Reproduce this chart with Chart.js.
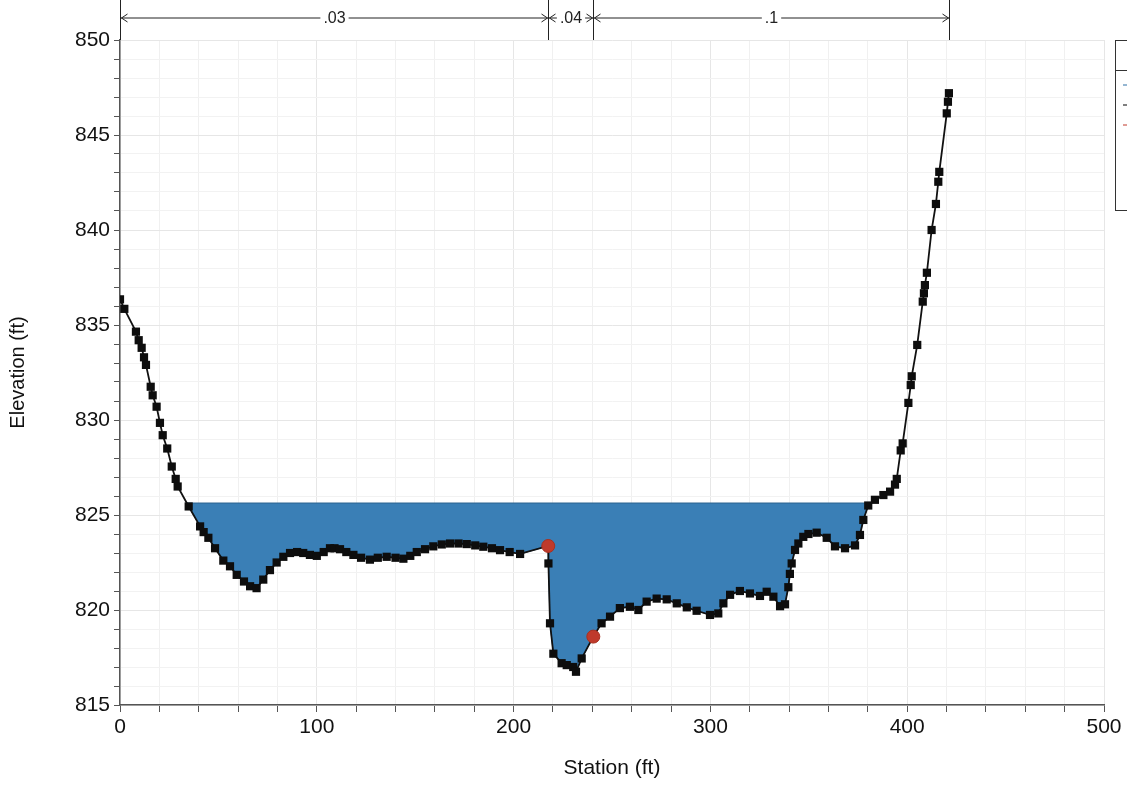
<!DOCTYPE html>
<html>
<head>
<meta charset="utf-8">
<script src="https://cdn.jsdelivr.net/npm/chart.js@4.4.1/dist/chart.umd.min.js"></script>
<style>
  html, body { margin: 0; padding: 0; background: #fff; }
  #wrap { width: 1127px; height: 786px; }
</style>
</head>
<body>
<div id="wrap"><canvas id="xsChart"></canvas></div>
<script>
// ground profile (station ft, elevation ft)
const stations = [0, 2.2, 8.1, 9.5, 11.0, 12.2, 13.2, 15.6, 16.6, 18.6, 20.3, 21.7, 24.0, 26.3, 28.3, 29.3,
  34.9, 40.7, 42.5, 44.9, 48.3, 52.5, 55.9, 59.3, 63, 66.1, 69.4, 72.8, 76.2, 79.6, 83, 86.4, 90, 93.1,
  96.5, 100, 103.5, 106.7, 109, 111.8, 115, 118.6, 122.5, 127, 131, 135.5, 140, 144, 147.5, 150.8, 155,
  159.2, 163.5, 167.7, 172, 176.2, 180.5, 184.6, 189, 193.1, 198, 203.3, 217.6, 217.7, 218.5, 220.2,
  224.4, 227, 230.3, 231.7, 234.6, 240.5, 244.7, 249, 254, 259.1, 263.4, 267.6, 272.7, 277.8, 282.9,
  288, 293, 299.8, 304, 306.6, 310, 315, 320.1, 325.2, 328.6, 332, 335.4, 337.9, 339.6, 340.4, 341.3,
  343, 344.7, 347.2, 349.8, 354, 359.1, 363.3, 368.4, 373.5, 376, 377.7, 380.2, 383.6, 387.9, 391.3,
  393.8, 394.7, 396.7, 397.7, 400.6, 401.8, 402.3, 405.1, 407.9, 408.5, 409, 410, 412.4, 414.6, 415.8,
  416.3, 420.1, 420.7, 421.2];
const elevations = [836.35, 835.85, 834.65, 834.2, 833.8, 833.3, 832.9, 831.75, 831.3, 830.7, 829.85, 829.2,
  828.5, 827.55, 826.9, 826.5, 825.45, 824.4, 824.1, 823.8, 823.25, 822.6, 822.3, 821.85, 821.5, 821.25,
  821.15, 821.6, 822.1, 822.5, 822.8, 823.0, 823.05, 823.0, 822.9, 822.85, 823.05, 823.25, 823.25, 823.2,
  823.05, 822.9, 822.75, 822.65, 822.75, 822.8, 822.75, 822.7, 822.85, 823.05, 823.2, 823.35, 823.45,
  823.5, 823.5, 823.47, 823.4, 823.33, 823.25, 823.15, 823.05, 822.95, 823.37, 822.45, 819.3, 817.7,
  817.2, 817.1, 817.0, 816.75, 817.45, 818.6, 819.3, 819.65, 820.1, 820.17, 820.0, 820.44, 820.6, 820.56,
  820.35, 820.14, 819.96, 819.74, 819.82, 820.35, 820.8, 821.0, 820.87, 820.74, 820.96, 820.7, 820.2,
  820.3, 821.2, 821.9, 822.45, 823.16, 823.5, 823.85, 824.0, 824.07, 823.8, 823.35, 823.25, 823.4,
  823.95, 824.74, 825.5, 825.8, 826.05, 826.23, 826.6, 826.9, 828.4, 828.77, 830.9, 831.84, 832.3,
  833.95, 836.23, 836.67, 837.1, 837.75, 840.0, 841.37, 842.54, 843.06, 846.14, 846.75, 847.2];
const bankStations = [217.6, 240.5];
const bankElevations = [823.37, 818.6];
const wsElevation = 825.63;
// manning's n breaks along the top
const nBreaks = [0, 217.6, 240.5, 421.2];
const nLabels = ['.03', '.04', '.1'];
const legendItems = ['WS PF 1', 'Ground', 'Bank Sta'];

const ground = stations.map((s, i) => ({x: s, y: elevations[i]}));
const banks = bankStations.map((s, i) => ({x: s, y: bankElevations[i]}));

// water polygon: WS line then ground back underneath it
function waterPolygon() {
  let iL = elevations.findIndex(e => e < wsElevation);
  let iR = elevations.length - 1;
  while (elevations[iR] >= wsElevation) iR--;
  const cross = (a, b) => stations[a] + (wsElevation - elevations[a]) * (stations[b] - stations[a]) / (elevations[b] - elevations[a]);
  const xl = cross(iL - 1, iL), xr = cross(iR, iR + 1);
  const pts = [{x: xl, y: wsElevation}, {x: xr, y: wsElevation}];
  for (let j = iR; j >= iL; j--) pts.push({x: stations[j], y: elevations[j]});
  pts.push({x: xl, y: wsElevation});
  return pts;
}

const FONT = "'Liberation Sans', Arial, sans-serif";

const topNotes = {
  id: 'topNotes',
  afterDraw(chart) {
    const ctx = chart.ctx, xs = chart.scales.x;
    const y = 18;
    ctx.save();
    ctx.strokeStyle = '#222';
    ctx.fillStyle = '#222';
    ctx.lineWidth = 1;
    ctx.font = '16px ' + FONT;
    ctx.textAlign = 'center';
    ctx.textBaseline = 'middle';
    const px = nBreaks.map(v => Math.round(xs.getPixelForValue(v)) + 0.5);
    px.forEach(p => { ctx.beginPath(); ctx.moveTo(p, 0); ctx.lineTo(p, 40); ctx.stroke(); });
    for (let i = 0; i < nLabels.length; i++) {
      const a = px[i], b = px[i + 1], mid = (a + b) / 2;
      const tw = ctx.measureText(nLabels[i]).width + 6;
      ctx.beginPath();
      if (b - a > tw + 4) {
        ctx.moveTo(a, y); ctx.lineTo(mid - tw / 2, y);
        ctx.moveTo(mid + tw / 2, y); ctx.lineTo(b, y);
      }
      // arrow heads
      ctx.moveTo(a + 7, y - 4); ctx.lineTo(a + 1, y); ctx.lineTo(a + 7, y + 4);
      ctx.moveTo(b - 7, y - 4); ctx.lineTo(b - 1, y); ctx.lineTo(b - 7, y + 4);
      ctx.stroke();
      ctx.fillText(nLabels[i], mid, y + 1);
    }
    // legend box, mostly off the right edge
    const lx = 1115, ly = 40;
    ctx.strokeStyle = '#333';
    ctx.strokeRect(lx + 0.5, ly + 0.5, 200, 170);
    ctx.beginPath(); ctx.moveTo(lx, ly + 30.5); ctx.lineTo(lx + 200, ly + 30.5); ctx.stroke();
    ctx.textAlign = 'left';
    ctx.font = '13px ' + FONT;
    ctx.fillText('Legend', lx + 40, ly + 16);
    const cols = ['#2d6fa5', '#000', '#c0392b'];
    legendItems.forEach((t, i) => {
      const yy = ly + 45 + i * 20;
      ctx.strokeStyle = cols[i];
      ctx.beginPath(); ctx.moveTo(lx + 8, yy); ctx.lineTo(lx + 30, yy); ctx.stroke();
      ctx.fillStyle = '#222';
      ctx.fillText(t, lx + 36, yy);
    });
    ctx.restore();
  }
};

new Chart(document.getElementById('xsChart'), {
  type: 'scatter',
  data: {
    datasets: [
      {
        label: 'Bank Sta',
        data: banks,
        pointStyle: 'circle',
        pointRadius: 6.5,
        pointBackgroundColor: '#bf3a2b',
        pointBorderColor: '#a8301f',
        showLine: false
      },
      {
        label: 'Ground',
        data: ground,
        showLine: true,
        borderColor: '#111',
        borderWidth: 1.8,
        pointStyle: 'rect',
        pointRadius: 5.8,
        pointBackgroundColor: '#0d0d0d',
        pointBorderColor: '#0d0d0d',
        pointBorderWidth: 0
      },
      {
        label: 'WS PF 1',
        data: waterPolygon(),
        showLine: true,
        borderColor: '#2b6390',
        borderWidth: 1,
        backgroundColor: '#3a7fb6',
        fill: 'shape',
        pointRadius: 0
      }
    ]
  },
  options: {
    responsive: true,
    maintainAspectRatio: false,
    animation: false,
    layout: { padding: { top: 40, right: 23, left: 0, bottom: 0 } },
    plugins: { legend: { display: false }, tooltip: { enabled: false } },
    scales: {
      x: {
        type: 'linear',
        min: 0, max: 500,
        afterFit: s => { s.height = 81; },
        ticks: {
          stepSize: 20,
          autoSkip: false,
          maxRotation: 0,
          padding: 3,
          color: '#111',
          font: { family: FONT, size: 21 },
          callback: v => (v % 100 === 0 ? String(v) : '')
        },
        grid: {
          color: ctx => (ctx.tick && ctx.tick.value % 100 === 0 ? '#e6e6e6' : '#f0f0f0'),
          tickColor: '#555',
          tickLength: 7
        },
        border: { color: '#555', width: 1.5 },
        title: { display: true, text: 'Station (ft)', color: '#111', font: { family: FONT, size: 21 }, padding: { top: 0, bottom: 5 } }
      },
      y: {
        type: 'linear',
        min: 815, max: 850,
        afterFit: s => { s.width = 120; },
        ticks: {
          stepSize: 1,
          autoSkip: false,
          padding: 4,
          color: '#111',
          font: { family: FONT, size: 21 },
          callback: v => (v % 5 === 0 ? String(v) : '')
        },
        grid: {
          color: ctx => (ctx.tick && ctx.tick.value % 5 === 0 ? '#e6e6e6' : '#f2f2f2'),
          tickColor: '#555',
          tickLength: 6
        },
        border: { color: '#555', width: 1.5 },
        title: { display: true, text: 'Elevation (ft)', color: '#111', font: { family: FONT, size: 20 }, padding: { top: 6, bottom: 0 } }
      }
    }
  },
  plugins: [topNotes]
});
</script>
</body>
</html>
